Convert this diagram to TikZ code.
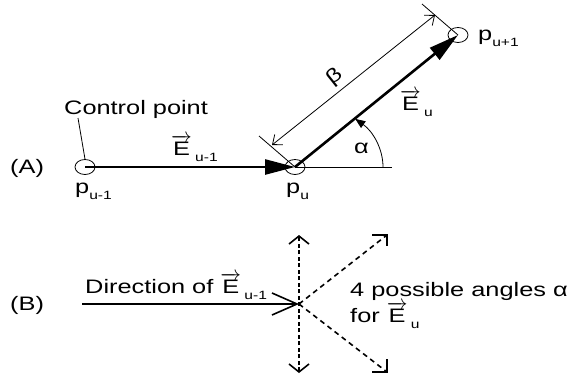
\documentclass[tikz,border=0pt]{standalone}
\usepackage{fontspec}
\setmainfont{Liberation Sans}[FakeStretch=1.3]
\usetikzlibrary{arrows.meta,shapes.geometric}
\newcommand\sbs[1]{\raisebox{-6pt}{\fontsize{12}{14}\selectfont #1}}
\newcommand\vE{$\overrightarrow{\hbox{E}}$}
\tikzset{
  lbl/.style={font=\fontsize{19.5}{22}\selectfont, inner sep=0pt, anchor=base west},
  ptmark/.style={draw, ellipse, minimum width=20pt, minimum height=15pt, inner sep=0pt, line width=0.8pt},
  bigarrow/.style={line width=2.6pt, -{Triangle[length=30pt,width=15pt]}},
  thinline/.style={line width=0.8pt},
  dimarrow/.style={line width=0.8pt, {Straight Barb[length=8pt,width=13pt]}-{Straight Barb[length=8pt,width=13pt]}},
  dirarrow/.style={line width=1.6pt, -{Straight Barb[length=25pt,width=22pt,line width=1.6pt]}},
  vdash/.style={line width=2pt, dash pattern=on 4pt off 2.5pt, {Straight Barb[length=8pt,width=20pt,line width=1.6pt]}-{Straight Barb[length=8pt,width=20pt,line width=1.6pt]}},
  ddash/.style={line width=1.6pt, dash pattern=on 5pt off 4pt},
  cornerhead/.style={line width=1.6pt}
}
\begin{document}
\begin{tikzpicture}[x=1pt,y=-1pt]
\useasboundingbox (0,0) rectangle (584,381);
% ---------- (A) ----------
\node[lbl] (labA) at (10,173) {(A)};
\node[ptmark] (pa) at (85,167) {};
\node[ptmark] (pu) at (295,167) {};
\node[ptmark] (pc) at (458,35) {};
\node[lbl] (lpa) at (75,193) {p\sbs{u-1}};
\node[lbl] (lpu) at (286,193) {p\sbs{u}};
\node[lbl] (lpc) at (478,40) {p\sbs{u+1}};
\node[lbl] (ctrl) at (64,114) {Control point};
\coordinate (cl) at (78,118);
\draw[thinline] (cl) -- (pa.north);
\draw[bigarrow] (pa.center) -- (pu.center);
\draw[bigarrow] (pu.center) -- (pc.center);
\coordinate (hb) at (392,167);
\draw[thinline] (pu.center) -- (hb);
\draw[thinline, -{Triangle[length=10pt,width=8pt]}] (pu.center) ++(88,0) arc[start angle=0, end angle=46.8, x radius=88pt, y radius=66pt];
\node[lbl] (lalpha) at (354,153) {α};
\node[lbl] (lEa) at (171,155) {\vE\,\sbs{u-1}};
\node[lbl] (lEu) at (400,110) {\vE\,\sbs{u}};
\coordinate (e1) at (259,136);
\coordinate (e2) at (422,4);
\draw[thinline] (pu.center) -- (e1);
\draw[thinline] (pc.center) -- (e2);
\coordinate (d1) at (272,145);
\coordinate (d2) at (435,15);
\draw[dimarrow] (d1) -- (d2);
\node[font=\fontsize{19.5}{22}\selectfont, inner sep=0pt, rotate=38.7] (lbeta) at (335,77) {β};
% ---------- (B) ----------
\node[lbl] (labB) at (10,310) {(B)};
\coordinate (o) at (299,304);
\coordinate (hs) at (82,304);
\coordinate (vt) at (299,235);
\coordinate (vb) at (299,373);
\coordinate (ur) at (387,235);
\coordinate (dr) at (387,372);
\draw[dirarrow] (hs) -- (o);
\draw[vdash] (vb) -- (vt);
\draw[ddash] (o) -- (ur);
\draw[ddash] (o) -- (dr);
\draw[cornerhead] (ur) ++(-15,0) -- (ur) -- ++(0,11);
\draw[cornerhead] (dr) ++(-15,0) -- (dr) -- ++(0,-13);
\node[lbl] (ldir) at (85,293) {Direction of \vE\,\sbs{u-1}};
\node[lbl] (lposs) at (350,296) {4 possible angles α};
\node[lbl] (lfor) at (350,322) {for \vE\,\sbs{u}};
\end{tikzpicture}
\end{document}
